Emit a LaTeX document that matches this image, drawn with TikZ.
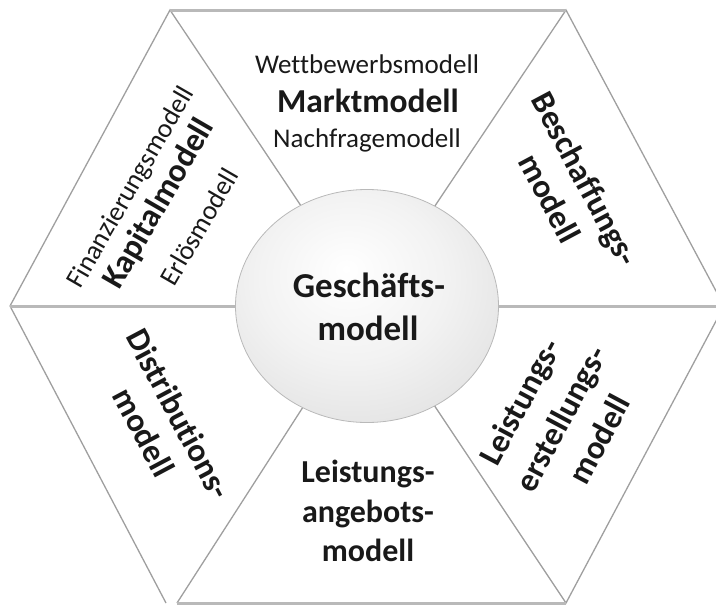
\documentclass[tikz,border=0pt]{standalone}
\usepackage{fontspec}
\setmainfont{Carlito}[Ligatures=NoCommon]
\usetikzlibrary{shapes.geometric}

% soft light-grey sphere for the core
\pgfdeclareradialshading{orb}{\pgfpoint{-4bp}{8bp}}{%
  color(0bp)=(white); color(18bp)=(gray!10); color(40bp)=(gray!28); color(50bp)=(gray!34); color(70bp)=(gray!38)}

\begin{document}
\begin{tikzpicture}[x=1pt,y=1pt,
  edge/.style={draw=gray!75, line width=1.3pt},
  band/.style={draw=gray!55, line width=3pt},
  txt/.style={text=black!90, inner sep=0pt},
  reg/.style={txt, font=\fontsize{27}{32}\selectfont},
  bld/.style={txt, font=\bfseries\fontsize{33}{40}\selectfont},
  bldsm/.style={txt, font=\bfseries\fontsize{32}{39}\selectfont},
  ctr/.style={txt, font=\bfseries\fontsize{35}{42}\selectfont}]
\useasboundingbox (0,0) rectangle (716,-605);

% hexagon corners and centre
\coordinate (C)   at (368,-306);
\coordinate (L)   at (10,-306);
\coordinate (TL)  at (170,-10);
\coordinate (TR)  at (566,-10);
\coordinate (R)   at (724,-306);
\coordinate (BR)  at (566,-603);
\coordinate (BL)  at (166,-603);
\coordinate (BLi) at (177,-603);

% six segments
\draw[edge] (L) -- (TL) -- (C);
\draw[edge] (C) -- (TR) -- (R) -- (BR) -- (C);
\draw[edge] (L) -- (BL);
\draw[edge] (BLi) -- (C);
\draw[band] (TL) -- (TR);
\draw[band] (L) -- (R);
\draw[band] (BLi) -- (BR);

% core
\node[ellipse, minimum width=263pt, minimum height=233pt, draw=gray!55, line width=0.8pt,
      shade, shading=orb] (core) at (367,-306) {};
\node[ctr, anchor=base] (g1) at (369,-297) {Geschäfts-};
\node[ctr, anchor=base] (g2) at (368,-340) {modell};

% top segment
\node[reg, anchor=base] (wett)  at (367,-73)  {Wettbewerbsmodell};
\node[bld, anchor=base, font=\bfseries\fontsize{33.5}{40}\selectfont] (markt) at (368,-112) {Marktmodell};
\node[reg, anchor=base] (nach)  at (367,-147) {Nachfragemodell};

% upper left segment
\node[reg, anchor=base, rotate=60] (fin) at (137.7,-191.5) {Finanzierungsmodell};
\node[bld, anchor=base, rotate=60] (kap) at (167,-208.5)   {Kapitalmodell};
\node[reg, anchor=base, rotate=60] (erl) at (207,-231.5)   {Erlösmodell};

% upper right segment
\node[bld, rotate=-62] (b1) at (583,-180) {Beschaffungs-};
\node[bld, rotate=-62] (b2) at (550,-198) {modell};

% lower left segment
\node[bld, rotate=-62] (d1) at (179,-414) {Distributions-};
\node[bld, rotate=-62] (d2) at (144,-432) {modell};

% lower right segment
\node[bld, rotate=62] (le1) at (522,-403) {Leistungs-};
\node[bld, rotate=62] (le2) at (563,-420) {erstellungs-};
\node[bld, rotate=62] (le3) at (599,-439) {modell};

% bottom segment
\node[bldsm, anchor=base] (la1) at (368,-482) {Leistungs-};
\node[bldsm, anchor=base] (la2) at (368,-522) {angebots-};
\node[bldsm, anchor=base] (la3) at (368,-561) {modell};
\end{tikzpicture}
\end{document}
